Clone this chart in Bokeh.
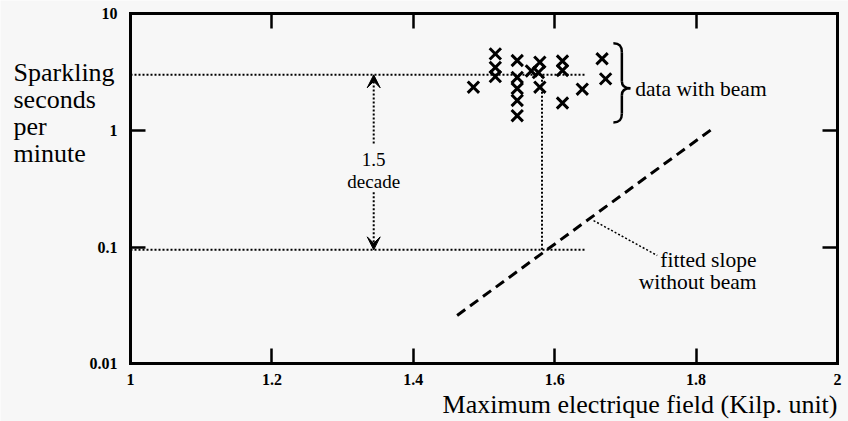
from bokeh.plotting import figure
from bokeh.models import (LinearAxis, LogAxis, FixedTicker, Label, Arrow, VeeHead,
                          CustomJSTickFormatter, Range1d)
from bokeh.embed import file_html
from bokeh.resources import INLINE

# ---------------- data ----------------
# sparkling with beam: maximum field (Kilp. unit) vs sparkling seconds per minute
field_beam = [1.485, 1.516, 1.516, 1.516, 1.547, 1.547, 1.547, 1.547, 1.547, 1.567,
              1.579, 1.577, 1.579, 1.611, 1.611, 1.611, 1.639, 1.667, 1.672]
spark_beam = [2.35, 4.54, 3.47, 2.90, 3.98, 2.85, 2.29, 1.81, 1.34, 3.24,
              3.85, 3.14, 2.35, 3.94, 3.27, 1.72, 2.26, 4.12, 2.77]

# fitted slope without beam (end points)
fit_field = [1.462, 1.823]
fit_spark = [0.026, 1.034]

level_beam = 3.0                      # level of data with beam
decades = 1.5                         # shift between the two levels
level_nobeam = level_beam / 10 ** decades
cross_field = 1.582                   # field where fitted slope meets lower level
ref_end_field = 1.645                 # where the dotted reference levels stop

x_ticks = [1, 1.2, 1.4, 1.6, 1.8, 2]
x_tick_labels = ["1", "1.2", "1.4", "1.6", "1.8", "2"]
y_ticks = [0.01, 0.1, 1, 10]
y_tick_labels = ["0.01", "0.1", "1", "10"]

x_title = "Maximum electrique field (Kilp. unit)"
y_title = ["Sparkling", "seconds", "per", "minute"]

# ---------------- layout ----------------
W, H = 848, 421
X_LO, X_HI = 1, 2            # axis box in data units
Y_LO, Y_HI = 0.01, 10
# the drawing area spans the whole canvas, the axes box sits inside it
x_range = Range1d(0.81612, 2.01556)
y_range = Range1d(0.003206, 13.01)

BG = "#f7f7f7"
FONT = "Liberation Serif"

p = figure(width=W, height=H, x_range=x_range, y_range=y_range, title=None,
           y_axis_type="log", output_backend="svg", toolbar_location=None,
           min_border=0, min_border_left=0, min_border_right=0,
           min_border_top=0, min_border_bottom=0,
           background_fill_color=BG, border_fill_color=BG,
           outline_line_color=None)
p.grid.visible = False


def fmt(ticks, labels):
    return CustomJSTickFormatter(args=dict(tvals=ticks, tlabs=labels), code="""
        for (let i = 0; i < tvals.length; i++) {
            if (Math.abs(tvals[i] - tick) < 1e-9 * Math.max(1, Math.abs(tvals[i]))) return tlabs[i];
        }
        return '';
    """)


def style(ax, ticks, labels, show, bounds, loc):
    ax.ticker = FixedTicker(ticks=ticks)
    ax.bounds = bounds
    ax.fixed_location = loc
    ax.axis_line_color = "black"
    ax.axis_line_width = 3
    ax.axis_line_cap = "square"
    ax.major_tick_in = 15
    ax.major_tick_out = 0
    ax.major_tick_line_width = 2.5
    ax.major_tick_line_color = "black"
    ax.minor_tick_line_color = None
    ax.major_label_text_font = FONT
    ax.major_label_text_font_style = "bold"
    ax.major_label_text_color = "black"
    if show:
        ax.formatter = fmt(ticks, labels)
        ax.major_label_text_font_size = "16px"
    else:
        ax.formatter = fmt(ticks, ["" for _ in labels])
        ax.major_label_text_font_size = "1px"
        ax.major_label_standoff = 0


style(p.xaxis[0], x_ticks, x_tick_labels, True, (X_LO, X_HI), Y_LO)
p.xaxis[0].major_label_standoff = 10
style(p.yaxis[0], y_ticks, y_tick_labels, True, (Y_LO, Y_HI), X_LO)
p.yaxis[0].major_label_standoff = 13

top = LinearAxis()
style(top, x_ticks, x_tick_labels, False, (X_LO, X_HI), Y_HI)
p.add_layout(top, "above")
right = LogAxis()
style(right, y_ticks, y_tick_labels, False, (Y_LO, Y_HI), X_HI)
p.add_layout(right, "right")

# ---------------- reference levels ----------------
DOT = "2 2"
p.line([X_LO, ref_end_field], [level_beam, level_beam], line_color="black",
       line_width=2, line_dash=DOT)
p.line([X_LO, ref_end_field], [level_nobeam, level_nobeam], line_color="black",
       line_width=2, line_dash=DOT)
p.line([cross_field, cross_field], [level_nobeam, level_beam], line_color="black",
       line_width=2, line_dash=DOT)

# fitted slope
p.line(fit_field, fit_spark, line_color="black", line_width=3, line_dash="10 6")

# data with beam
p.scatter(field_beam, spark_beam, marker="x", size=16, line_width=3, line_color="black")

# ---------------- "1.5 decade" double arrow ----------------
arrow_x = 1.344
p.add_layout(Arrow(start=None, end=VeeHead(size=13, fill_color="black", line_color="black"),
                   x_start=arrow_x, y_start=0.774, x_end=arrow_x, y_end=level_beam,
                   line_color="black", line_width=2, line_dash=DOT))
p.add_layout(Arrow(start=None, end=VeeHead(size=13, fill_color="black", line_color="black"),
                   x_start=arrow_x, y_start=0.296, x_end=arrow_x, y_end=level_nobeam,
                   line_color="black", line_width=2, line_dash=DOT))


def lab(x, y, text, size, align="left"):
    p.add_layout(Label(x=x, y=y, text=text, text_font=FONT, text_font_size=size,
                       text_align=align, text_baseline="middle", text_color="black"))


lab(arrow_x, 0.5697, "1.5", "19px", "center")
lab(arrow_x, 0.3655, "decade", "19px", "center")

# ---------------- brace around the data with beam ----------------
bx0, bx1, bx2 = 1.683, 1.695, 1.707
lt, lm, lb = 0.748, 0.362, 0.068     # log10 of top, tip and bottom of the brace
hk, tp = 0.077, 0.06
L = lambda v: 10 ** v
p.bezier(x0=[bx0, bx1, bx2, bx1], y0=[L(lt), L(lm + tp), L(lm), L(lb + hk)],
         x1=[bx1, bx2, bx1, bx0], y1=[L(lt - hk), L(lm), L(lm - tp), L(lb)],
         cx0=[bx0 + 0.8 * (bx1 - bx0), bx1, (bx1 + bx2) / 2, bx1],
         cy0=[L(lt), L(lm + 0.015), L(lm), L(lb + 0.03)],
         cx1=[bx1, (bx1 + bx2) / 2, bx1, bx0 + 0.8 * (bx1 - bx0)],
         cy1=[L(lt - 0.03), L(lm), L(lm - 0.015), L(lb)],
         line_color="black", line_width=2.5)
p.segment(x0=[bx1, bx1], y0=[L(lt - hk), L(lm - tp)], x1=[bx1, bx1], y1=[L(lm + tp), L(lb + hk)],
          line_color="black", line_width=2.5)
lab(1.714, 2.291, "data with beam", "21.5px")

# ---------------- fitted slope annotation ----------------
p.line([1.655, 1.745], [0.169, 0.0849], line_color="black", line_width=1.5, line_dash=DOT)
lab(1.8854, 0.07839, "fitted slope", "21.5px", "right")
lab(1.8854, 0.04981, "without beam", "21.5px", "right")

# ---------------- axis titles ----------------
lab(X_HI, 0.00445, x_title, "26px", "right")
for t, yy in zip(y_title, [3.141, 1.844, 1.082, 0.6353]):
    lab(0.8345, yy, t, "26px")

open("out.html", "w").write(file_html(p, INLINE))
